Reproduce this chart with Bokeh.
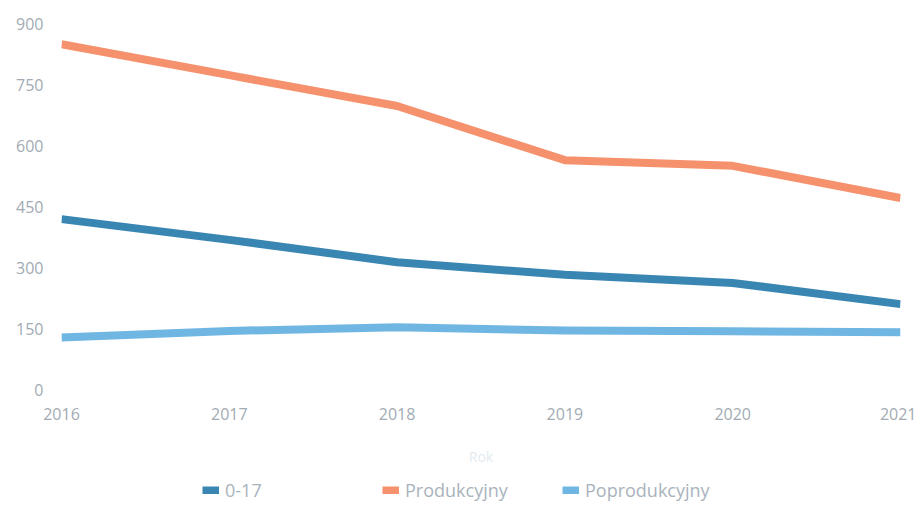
from bokeh.plotting import figure
from bokeh.models import ColumnDataSource, Legend, LegendItem, FixedTicker, Range1d
from bokeh.layouts import column
from bokeh.embed import file_html
from bokeh.resources import INLINE

years = [2016, 2017, 2018, 2019, 2020, 2021]
age_0_17 = [419, 368, 313, 282, 262, 210]
produkcyjny = [849, 773, 697, 564, 550, 471]
poprodukcyjny = [128, 144, 153, 145, 143, 141]
y_ticks = [0, 150, 300, 450, 600, 750, 900]

names = ["0-17", "Produkcyjny", "Poprodukcyjny"]
values = [age_0_17, produkcyjny, poprodukcyjny]
colors = ["#3a86b3", "#f6916d", "#70b6e3"]

p = figure(width=916, height=470, output_backend="svg", toolbar_location=None,
           x_range=Range1d(2016, 2021), y_range=Range1d(0, 900),
           min_border_left=61, min_border_right=16, min_border_top=23, min_border_bottom=81)
p.outline_line_color = None
p.xgrid.grid_line_color = None
p.ygrid.grid_line_color = None

sources = []
for name, vals, col in zip(names, values, colors):
    src = ColumnDataSource(dict(x=years, y=vals))
    sources.append(src)
    p.line("x", "y", source=src, line_color=col, line_width=8, line_join="round")

tick_color = "#a2abb3"
for ax in (p.xaxis[0], p.yaxis[0]):
    ax.axis_line_color = None
    ax.major_tick_line_color = None
    ax.minor_tick_line_color = None
    ax.major_label_text_font = "Open Sans"
    ax.major_label_text_color = tick_color
    ax.major_label_text_font_size = "16px"
    ax.major_label_standoff = 12

p.xaxis.ticker = FixedTicker(ticks=years)
p.yaxis.ticker = FixedTicker(ticks=y_ticks)
p.xaxis.axis_label = "Rok"
p.xaxis.axis_label_text_font = "Open Sans"
p.xaxis.axis_label_text_font_style = "normal"
p.xaxis.axis_label_text_font_size = "14px"
p.xaxis.axis_label_text_color = "#e2eaf1"
p.xaxis.axis_label_standoff = 24

# legend strip below the chart (its lines lie outside its own view; only the legend shows)
p2 = figure(width=916, height=35, output_backend="svg", toolbar_location=None,
            x_range=Range1d(0, 1), y_range=Range1d(0, 1),
            min_border_left=0, min_border_right=0, min_border_top=0, min_border_bottom=0)
p2.axis.visible = False
p2.grid.visible = False
p2.outline_line_color = None

legend_x = [141, 321, 501]
for name, col, lx, src in zip(names, colors, legend_x, sources):
    r = p2.line("x", "y", source=src, line_color=col, line_width=8)
    lg = Legend(items=[LegendItem(label=name, renderers=[r])], location=(lx, 3),
                orientation="horizontal", padding=0, margin=0, border_line_color=None,
                background_fill_alpha=0, glyph_width=17, glyph_height=8, label_height=20,
                label_standoff=6, label_text_font="Open Sans", label_text_font_size="18px",
                label_text_color="#a9b3bc")
    p2.add_layout(lg, "center")

layout = column(p, p2, spacing=0)
open("out.html", "w").write(file_html(layout, INLINE))
